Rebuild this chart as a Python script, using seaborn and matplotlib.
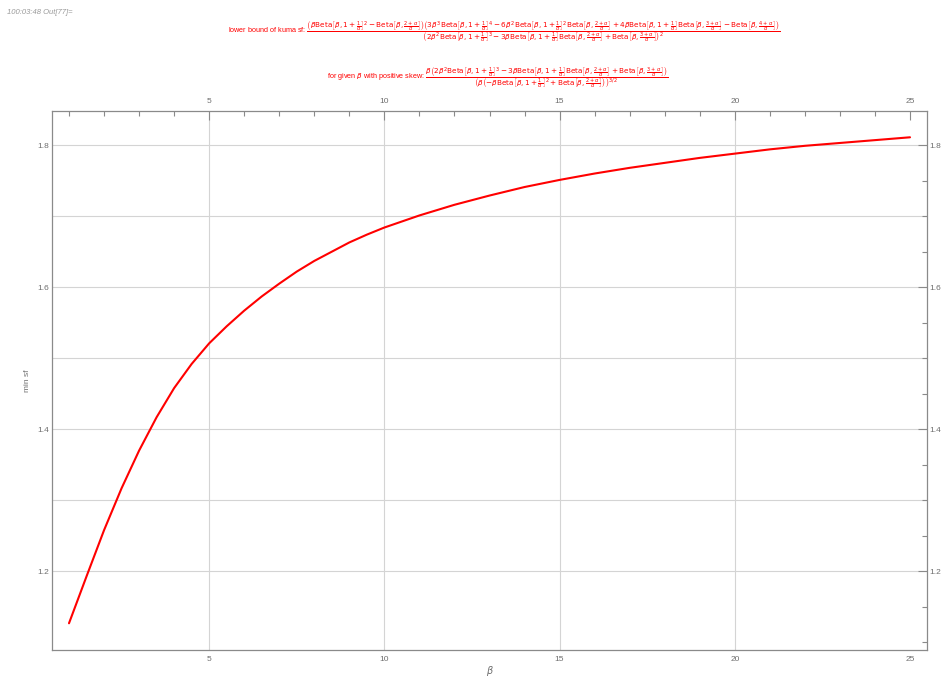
import numpy as np
import matplotlib.pyplot as plt
import seaborn as sns
from matplotlib.ticker import FixedLocator

# values
beta = [1, 1.5, 2, 2.5, 3, 3.5, 4, 4.5, 5, 5.5, 6, 6.5, 7, 7.5, 8, 8.5, 9,
        9.5, 10, 11, 12, 13, 14, 15, 16, 17, 18, 19, 20, 21, 22, 23, 24, 25]
min_sf = [1.127, 1.193, 1.258, 1.317, 1.370, 1.417, 1.458, 1.492, 1.521,
          1.545, 1.567, 1.587, 1.605, 1.622, 1.637, 1.650, 1.663, 1.674,
          1.684, 1.701, 1.716, 1.729, 1.741, 1.751, 1.760, 1.768, 1.775,
          1.782, 1.788, 1.794, 1.799, 1.803, 1.807, 1.811]

x_major = [5, 10, 15, 20, 25]
x_minor = [i for i in range(1, 26) if i % 5 != 0]
y_major = [1.2, 1.4, 1.6, 1.8]
y_minor = [1.1, 1.15, 1.25, 1.3, 1.35, 1.45, 1.5, 1.55, 1.65, 1.7, 1.75, 1.85]
x_grid = [5, 10, 15, 20]
y_grid = [1.2, 1.3, 1.4, 1.5, 1.6, 1.7, 1.8]

sns.set_style("white")
plt.rcParams['font.family'] = ['Liberation Sans', 'DejaVu Sans']
plt.rcParams['mathtext.fontset'] = 'custom'
plt.rcParams['mathtext.rm'] = 'Liberation Sans Narrow'
plt.rcParams['mathtext.it'] = 'Liberation Sans Narrow:italic'
plt.rcParams['mathtext.bf'] = 'Liberation Sans Narrow:bold'

W, H = 943, 679
fig = plt.figure(figsize=(W / 100, H / 100), dpi=100)
ax = fig.add_axes([52 / W, 1 - 650 / H, (927 - 52) / W, (650 - 111) / H])

for g in x_grid:
    ax.axvline(g, color='#d4d4d4', lw=0.8, zorder=0)
for g in y_grid:
    ax.axhline(g, color='#d4d4d4', lw=0.8, zorder=0)

sns.lineplot(x=beta, y=min_sf, color='#ff0000', lw=1.5, ax=ax)

ax.set_xlim(0.515, 25.485)
ax.set_ylim(1.0894, 1.848)
ax.set_xticks(x_major)
ax.set_xticklabels([str(v) for v in x_major])
ax.xaxis.set_minor_locator(FixedLocator(x_minor))
ax.set_yticks(y_major)
ax.set_yticklabels([str(v) for v in y_major])
ax.yaxis.set_minor_locator(FixedLocator(y_minor))

gray = '#8a8a8a'
ax.tick_params(which='both', direction='in', top=True, right=True,
               labeltop=True, labelright=True, color=gray, labelcolor='#6e6e6e',
               labelsize=6, width=0.8)
ax.tick_params(which='major', length=6.5)
ax.tick_params(which='minor', length=3.5)
ax.tick_params(axis='x', which='major', pad=4)
ax.tick_params(axis='y', which='major', pad=2)
for s in ax.spines.values():
    s.set_color(gray)
    s.set_linewidth(0.9)

ax.set_xlabel(r'$\beta$', color='#6e6e6e', fontsize=7, labelpad=1)
ax.set_ylabel('min sf', color='#6e6e6e', fontsize=6, labelpad=5)

# header text
fig.text(7 / W, 1 - 12 / H, '100:03:48 Out[77]=', color='#999999',
         fontsize=5.5, style='italic', va='center')

B1 = r'\mathrm{Beta}\left[\beta,1+\frac{1}{\alpha}\right]'
B2 = r'\mathrm{Beta}\left[\beta,\frac{2+\alpha}{\alpha}\right]'
B3 = r'\mathrm{Beta}\left[\beta,\frac{3+\alpha}{\alpha}\right]'
B4 = r'\mathrm{Beta}\left[\beta,\frac{4+\alpha}{\alpha}\right]'

num1 = (r'\left(\beta' + B1 + r'^2-' + B2 + r'\right)\left(3\beta^3' + B1 +
        r'^4-6\beta^2' + B1 + r'^2' + B2 + r'+4\beta' + B1 + B3 +
        r'-' + B4 + r'\right)')
den1 = (r'\left(2\beta^2' + B1 + r'^3-3\beta' + B1 + B2 + r'+' +
        B3 + r'\right)^2')
num2 = (r'\beta\left(2\beta^2' + B1 + r'^3-3\beta' + B1 + B2 +
        r'+' + B3 + r'\right)')
den2 = (r'\left(\beta\left(-\beta' + B1 + r'^2+' + B2 + r'\right)\right)^{3/2}')

fig.text(228 / W, 1 - 32 / H, 'lower bound of kuma sf: $\\dfrac{' + num1 + '}{' + den1 + '}$',
         color='#ff0000', fontsize=5.2, va='center', ha='left')
fig.text(327 / W, 1 - 78 / H, r'for given $\beta$ with positive skew: $\dfrac{' + num2 + '}{' + den2 + '}$',
         color='#ff0000', fontsize=5.2, va='center', ha='left')

fig.savefig('out.png', dpi=100)
